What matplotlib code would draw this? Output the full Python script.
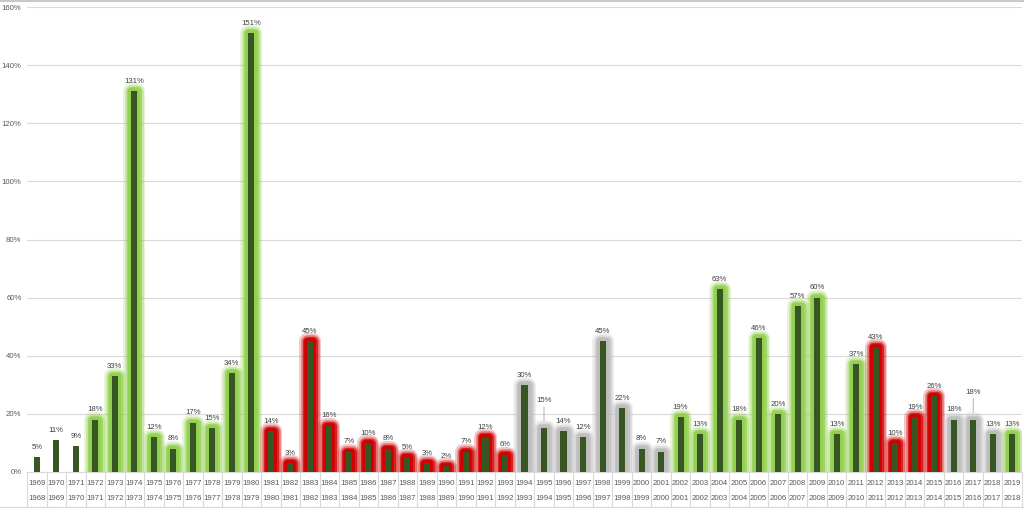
import matplotlib
matplotlib.use("Agg")
import matplotlib.pyplot as plt
import matplotlib.patheffects as pe
from matplotlib.lines import Line2D
from matplotlib.ticker import FuncFormatter, MultipleLocator

years_top = list(range(1969, 2020))
years_bottom = list(range(1968, 2019))
values = [5, 11, 9, 18, 33, 131, 12, 8, 17, 15, 34, 151, 14, 3, 45, 16, 7, 10, 8, 5,
          3, 2, 7, 12, 6, 30, 15, 14, 12, 45, 22, 8, 7, 19, 13, 63, 18, 46, 20, 57,
          60, 13, 37, 43, 10, 19, 26, 18, 18, 13, 13]
groups = (['none'] * 3 + ['green'] * 9 + ['red'] * 13 + ['gray'] * 8 + ['green'] * 10
          + ['red'] * 4 + ['gray'] * 3 + ['green'] * 1)

glow_colors = {'green': '#92D050', 'red': '#D00000', 'gray': '#BDBDBD'}
bar_color = '#375623'
txt_color = '#404040'

plt.rcParams['font.family'] = ['Liberation Sans', 'DejaVu Sans']

fig = plt.figure(figsize=(10.24, 5.11), dpi=100)
ax = fig.add_axes([27 / 1024, 1 - 472 / 511, 995 / 1024, 465 / 511])

x = list(range(len(values)))
bars = ax.bar(x, values, width=0.31, color=bar_color, linewidth=0, zorder=3)
for b, g in zip(bars, groups):
    if g == 'none':
        continue
    c = glow_colors[g]
    b.set_path_effects([
        pe.Stroke(linewidth=11.5, foreground=c, alpha=0.22, joinstyle='round'),
        pe.Stroke(linewidth=9, foreground=c, alpha=0.4, joinstyle='round'),
        pe.Stroke(linewidth=6.5, foreground=c, alpha=0.7, joinstyle='round'),
        pe.Stroke(linewidth=4, foreground=c, alpha=1.0, joinstyle='round'),
        pe.Normal(),
    ])

leader_idx = {years_top.index(1995), years_top.index(2017)}
for i, v in enumerate(values):
    if i in leader_idx:
        ax.annotate(f"{v}%", xy=(i, v + 2.5), xytext=(0, 12), textcoords='offset points',
                    ha='center', va='bottom', fontsize=5.6, color=txt_color, zorder=5,
                    arrowprops=dict(arrowstyle='-', color='#A6A6A6', lw=0.6,
                                    shrinkA=0, shrinkB=0))
    else:
        ax.annotate(f"{v}%", xy=(i, v), xytext=(0, 4.5), textcoords='offset points',
                    ha='center', va='bottom', fontsize=5.6, color=txt_color, zorder=5)

ax.set_xlim(-0.5, len(values) - 0.5)
ax.set_ylim(0, 160)
ax.yaxis.set_major_locator(MultipleLocator(20))
ax.yaxis.set_major_formatter(FuncFormatter(lambda v, p: f"{int(v)}%"))
ax.grid(axis='y', color='#D9D9D9', linewidth=0.8, zorder=0)
ax.set_axisbelow(True)
for s in ['left', 'right', 'top']:
    ax.spines[s].set_visible(False)
ax.spines['bottom'].set_color('#D9D9D9')
ax.spines['bottom'].set_linewidth(0.8)

ax.tick_params(axis='y', length=0, pad=4, labelsize=5.6, labelcolor='#595959')
ax.set_xticks(x)
ax.set_xticklabels([f"{a}\n{b}" for a, b in zip(years_top, years_bottom)],
                   fontsize=5.6, color='#595959', linespacing=2.75)
ax.set_xticks([i - 0.5 for i in range(len(values) + 1)], minor=True)
ax.tick_params(axis='x', which='major', length=0, pad=5.5)
ax.tick_params(axis='x', which='minor', length=25, width=0.8, color='#D9D9D9')

fig.add_artist(Line2D([0, 1], [1 - 507 / 511] * 2, color='#D9D9D9', lw=0.8,
                      transform=fig.transFigure))
fig.add_artist(Line2D([0, 1], [1 - 1 / 511] * 2, color='#BFBFBF', lw=1.2,
                      transform=fig.transFigure))

fig.savefig("out.png", dpi=100)
